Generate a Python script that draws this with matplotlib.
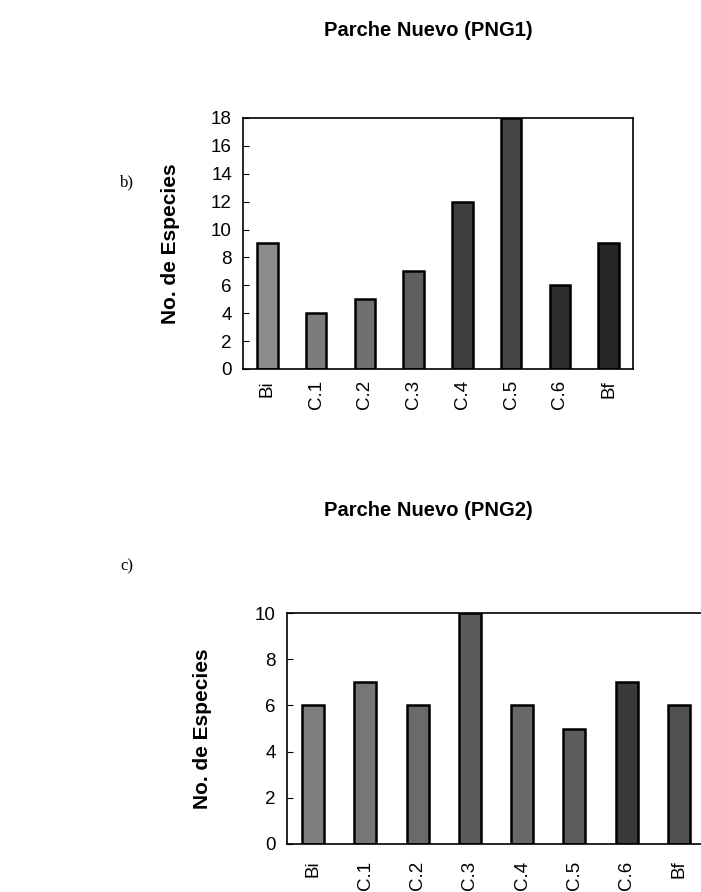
import matplotlib
matplotlib.use("Agg")
import matplotlib.pyplot as plt

# Datos
categorias = ["Bi", "C.1", "C.2", "C.3", "C.4", "C.5", "C.6", "Bf"]
especies_png1 = [9, 4, 5, 7, 12, 18, 6, 9]
especies_png2 = [6, 7, 6, 10, 6, 5, 7, 6]

grises_png1 = ["#8c8c8c", "#7c7c7c", "#707070", "#5e5e5e", "#3e3e3e", "#454545", "#2e2e2e", "#262626"]
grises_png2 = ["#7e7e7e", "#767676", "#6a6a6a", "#5a5a5a", "#686868", "#5c5c5c", "#3a3a3a", "#505050"]

plt.rcParams["font.family"] = ["Liberation Sans", "DejaVu Sans"]

W, H = 701, 892
fig = plt.figure(figsize=(W / 100, H / 100), dpi=100)


def panel(rect, valores, colores, ymax, yticks, titulo, titulo_y, letra, letra_y, ylabel_x, xpad):
    l, b, w, h = rect
    ax = fig.add_axes([l / W, 1 - (b) / H, w / W, h / H])
    x = range(len(categorias))
    ax.bar(x, valores, width=0.42, color=colores, edgecolor="black", linewidth=1.8, zorder=2)
    ax.set_xlim(-0.5, len(categorias) - 0.5)
    ax.set_ylim(0, ymax)
    ax.set_yticks(yticks)
    ax.set_xticks(list(x))
    ax.set_xticklabels(categorias, rotation=90, fontsize=13.5)
    ax.tick_params(axis="y", direction="in", labelsize=13.5, length=4, pad=8)
    ax.tick_params(axis="x", length=0, pad=xpad)
    for s in ax.spines.values():
        s.set_linewidth(1.2)
    fig.text(ylabel_x / W, 1 - (b - h / 2) / H, "No. de Especies", rotation=90,
             fontsize=15, fontweight="bold", ha="center", va="center")
    fig.text(428 / W, 1 - titulo_y / H, titulo, fontsize=14.5, fontweight="bold",
             ha="center", va="center")
    fig.text(120 / W, 1 - letra_y / H, letra, fontsize=12,
             family=["Liberation Serif", "DejaVu Serif"], ha="left", va="center")
    return ax


panel((243, 369, 390, 251), especies_png1, grises_png1, 18, range(0, 19, 2),
      "Parche Nuevo (PNG1)", 30, "b)", 182, 170, 8)
panel((287, 844, 418, 231), especies_png2, grises_png2, 10, range(0, 11, 2),
      "Parche Nuevo (PNG2)", 510, "c)", 566, 203, 12)

fig.savefig("out.png", dpi=100)
